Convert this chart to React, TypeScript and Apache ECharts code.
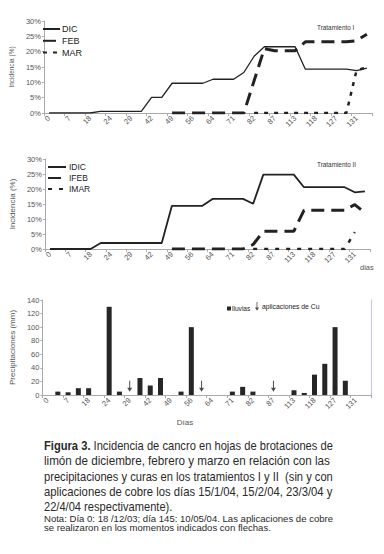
import React, { useEffect, useRef } from 'react';
import * as echarts from 'echarts';

// Category axis (days); odd entries are not labelled on the original axis
const days = ['0', '3', '7', '12', '18', '21', '24', '27', '29', '35', '42', '45', '49', '52', '56', '60', '64', '67', '71', '77', '82', '84', '87', '96', '113', '116', '118', '122', '127', '129', '131', '138'];

// Tratamiento I (%)
const dic1 = [0, 0, 0, 0, 0, 0.5, 0.5, 0.5, 0.5, 0.5, 5.1, 5.1, 9.7, 9.7, 9.7, 9.7, 11, 11, 11, 13.2, 18.5, 21.6, 21.6, 21.6, 21.6, 14.3, 14.3, 14.3, 14.3, 14.3, 13.8, 14.6];
const feb1 = [null, null, null, null, null, null, null, null, null, null, null, null, 0, 0, 0, 0, 0, 0, 0, 0, 10.5, 21, 20.3, 20.3, 20.3, 23.2, 23.2, 23.2, 23.2, 23.2, 23.6, 25.7];
const mar1 = [null, null, null, null, null, null, null, null, null, null, null, null, null, null, null, null, null, null, null, null, 0, 0, 0, 0, 0, 0, 0, 0, 0, 0, 14, 14.8];

// Tratamiento II (%)
const dic2 = [0, 0, 0, 0, 0, 2, 2, 2, 2, 2, 2, 2, 14.4, 14.4, 14.4, 14.4, 16.7, 16.7, 16.7, 16.7, 15.1, 24.8, 24.8, 24.8, 24.8, 20.6, 20.6, 20.6, 20.6, 20.6, 18.9, 19.2];
const feb2 = [null, null, null, null, null, null, null, null, null, null, null, null, 0, 0, 0, 0, 0, 0, 0, 0, 1.5, 5.9, 5.9, 5.9, 5.9, 12.9, 12.9, 12.9, 12.9, 12.9, 14.8, 12];
const mar2 = [null, null, null, null, null, null, null, null, null, null, null, null, null, null, null, null, null, null, null, null, 0, 0, 0, 0, 0, 0, 0, 0, 0, 0, 5.6, null];

// Precipitaciones (mm)
const lluvias = [null, 5, 4, 10, 10, null, 130, 5, null, 25, 14, 25, null, 5, 100, null, null, null, 5, 12, 5, null, null, null, 7, 3, 30, 46, 100, 21, null, null];
// Aplicaciones de Cu (day category, marker height in mm)
const cuDays = ['29', '60', '87', '127'];
const cuLevel = 13;

const pctTicks = { min: 0, max: 30, interval: 5 };
const mmTicks = { min: 0, max: 140, interval: 20 };

const FONT = "'Liberation Sans', Arial, sans-serif";
const ARROW = 'path://M2,0 L3,0 L3,7 L5,7 L2.5,11 L0,7 L2,7 Z';

const INK = '#222';
const AXIS = '#aaa';
const LBL = '#555';

// caption: [bold prefix, text, justified width (0 = natural)]
const captionLines: [string, string, number][] = [
  ['Figura 3.', ' Incidencia de cancro en hojas de brotaciones de', 289],
  ['', 'limón de diciembre, febrero y marzo en relación con las', 286],
  ['', 'precipitaciones y curas en los tratamientos I y II  (sin y con', 289],
  ['', 'aplicaciones de cobre los días 15/1/04, 15/2/04, 23/3/04 y', 289],
  ['', '22/4/04 respectivamente).', 0],
];
const noteLines: [string, number][] = [
  ['Nota: Día 0: 18 /12/03; día 145: 10/05/04. Las aplicaciones de cobre', 289],
  ['se realizaron en los momentos indicados con flechas.', 0],
];

function measure(text: string, font: string): number {
  const c = document.createElement('canvas').getContext('2d');
  if (!c) return text.length * 6;
  c.font = font;
  return c.measureText(text).width;
}

function xAxisFor(gridIndex: number) {
  return {
    type: 'category',
    gridIndex,
    data: days,
    boundaryGap: true,
    axisLine: { lineStyle: { color: AXIS, width: 1 } },
    axisTick: { show: true, interval: 1, length: 3, lineStyle: { color: AXIS } },
    axisLabel: { interval: 1, rotate: 45, fontSize: 7.5, color: LBL, margin: 4, fontFamily: FONT },
    splitLine: { show: false },
  };
}

function pctAxis(gridIndex: number, nameGap: number, nameSize: number) {
  return {
    type: 'value',
    gridIndex,
    ...pctTicks,
    name: 'Incidencia (%)',
    nameLocation: 'middle',
    nameGap,
    nameTextStyle: { fontSize: nameSize, color: LBL, fontFamily: FONT },
    axisLine: { show: true, lineStyle: { color: AXIS } },
    axisTick: { show: true, length: 2, lineStyle: { color: AXIS } },
    axisLabel: { formatter: '{value}%', fontSize: 7.5, color: LBL, margin: 3, fontFamily: FONT },
    splitLine: { show: false },
  };
}

function lineSeries(name: string, data: (number | null)[], idx: number, width: number, type: any) {
  return {
    name,
    type: 'line',
    xAxisIndex: idx,
    yAxisIndex: idx,
    data,
    symbol: 'none',
    connectNulls: false,
    lineStyle: { color: INK, width, type, cap: 'butt' },
    itemStyle: { color: INK },
    z: 3,
  };
}

export default function App() {
  const ref = useRef<HTMLDivElement>(null);
  useEffect(() => {
    if (!ref.current) return;
    const chart = echarts.init(ref.current, undefined, { renderer: 'svg' });
    const graphic: any[] = [
      { type: 'text', x: 317, y: 27, scaleX: 0.85, style: { text: 'Tratamiento I', fontSize: 7.5, fill: '#333', fontFamily: FONT, verticalAlign: 'middle' } },
      { type: 'text', x: 317, y: 164, scaleX: 0.85, style: { text: 'Tratamiento II', fontSize: 7.5, fill: '#333', fontFamily: FONT, verticalAlign: 'middle' } },
      { type: 'text', x: 360, y: 267, style: { text: 'dias', fontSize: 7.5, fill: LBL, fontFamily: FONT, verticalAlign: 'middle' } },
      { type: 'text', x: 185, y: 422, style: { text: 'Días', fontSize: 8, fill: LBL, fontFamily: FONT, align: 'center', verticalAlign: 'middle' } },
    ];
    const capSize = 13;
    const capFontR = `${capSize}px 'Liberation Sans'`;
    const capFontB = `bold ${capSize}px 'Liberation Sans'`;
    const defaultCapScale = 0.855;
    captionLines.forEach(([bold, rest, target], i) => {
      const w = (bold ? measure(bold, capFontB) : 0) + measure(rest, capFontR);
      const sx = target && w > 0 ? target / w : defaultCapScale;
      graphic.push({
        type: 'text',
        x: 44,
        y: 446 + i * 15.2,
        scaleX: sx,
        style: {
          text: bold ? `{b|${bold}}${rest}` : rest,
          fontSize: capSize,
          fontFamily: FONT,
          fill: '#2a2a2a',
          verticalAlign: 'middle',
          rich: { b: { fontSize: capSize, fontWeight: 'bold', fontFamily: FONT, fill: '#2a2a2a' } },
        },
      });
    });
    const noteSize = 9.4;
    const noteFont = `${noteSize}px 'Liberation Sans'`;
    let noteScale = 1;
    noteLines.forEach(([t, target], i) => {
      const w = measure(t, noteFont);
      if (target && w > 0) noteScale = target / w;
      graphic.push({
        type: 'text',
        x: 44,
        y: 518.5 + i * 9.2,
        scaleX: noteScale,
        style: { text: t, fontSize: noteSize, fontFamily: FONT, fill: '#2a2a2a', verticalAlign: 'middle' },
      });
    });

    const hideSymbol = { color: 'transparent', borderWidth: 0 };

    chart.setOption({
      animation: false,
      backgroundColor: '#fff',
      grid: [
        { left: 33, top: 21, width: 339, height: 92 },
        { left: 37, top: 159, width: 333, height: 90 },
        { left: 37, top: 300, width: 334, height: 95 },
      ],
      xAxis: [xAxisFor(0), xAxisFor(1), xAxisFor(2)],
      yAxis: [
        pctAxis(0, 22, 6.5),
        pctAxis(1, 24, 8),
        {
          type: 'value',
          gridIndex: 2,
          ...mmTicks,
          name: 'Precipitaciones (mm)',
          nameLocation: 'middle',
          nameGap: 19,
          nameTextStyle: { fontSize: 8, color: LBL, fontFamily: FONT },
          axisLine: { show: true, lineStyle: { color: AXIS } },
          axisTick: { show: true, length: 2, lineStyle: { color: AXIS } },
          axisLabel: { fontSize: 7.5, color: LBL, margin: 3, fontFamily: FONT },
          splitLine: { show: false },
        },
        {
          type: 'value',
          gridIndex: 2,
          position: 'right',
          ...mmTicks,
          axisLine: { show: true, lineStyle: { color: '#c4c8dc' } },
          axisTick: { show: false },
          axisLabel: { show: false },
          splitLine: { show: false },
        },
      ],
      legend: [
        {
          data: ['DIC', 'FEB', 'MAR'],
          orient: 'vertical',
          left: 42,
          top: 24,
          itemWidth: 17,
          itemHeight: 10,
          itemGap: 1.8,
          padding: 0,
          itemStyle: hideSymbol,
          textStyle: { fontSize: 9, color: INK, fontFamily: FONT, lineHeight: 10, padding: [0, 0, 0, -3] },
        },
        {
          data: ['IDIC', 'IFEB', 'IMAR'],
          orient: 'vertical',
          left: 47,
          top: 162,
          itemWidth: 18,
          itemHeight: 10,
          itemGap: 1,
          padding: 0,
          itemStyle: hideSymbol,
          textStyle: { fontSize: 8.5, color: INK, fontFamily: FONT, lineHeight: 10, padding: [0, 0, 0, -2] },
        },
        {
          data: [{ name: 'lluvias', icon: 'rect' }],
          left: 227,
          top: 305,
          itemWidth: 4,
          itemHeight: 4,
          padding: 0,
          textStyle: { fontSize: 6.6, color: INK, fontFamily: FONT, padding: [0, 0, 0, -4] },
        },
        {
          data: [{ name: 'aplicaciones de Cu', icon: ARROW }],
          left: 255,
          top: 302,
          itemWidth: 4,
          itemHeight: 10,
          padding: 0,
          textStyle: { fontSize: 6.8, color: INK, fontFamily: FONT, padding: [0, 0, 0, -2] },
        },
      ],
      graphic,
      series: [
        lineSeries('DIC', dic1, 0, 1.3, 'solid'),
        lineSeries('FEB', feb1, 0, 3, [13, 7]),
        lineSeries('MAR', mar1, 0, 2.5, [4, 6]),
        lineSeries('IDIC', dic2, 1, 1.8, 'solid'),
        lineSeries('IFEB', feb2, 1, 3, [13, 7]),
        lineSeries('IMAR', mar2, 1, 2.5, [4, 7]),
        {
          name: 'lluvias',
          type: 'bar',
          xAxisIndex: 2,
          yAxisIndex: 2,
          data: lluvias,
          barWidth: 5,
          itemStyle: { color: '#262626' },
        },
        {
          name: 'aplicaciones de Cu',
          type: 'scatter',
          xAxisIndex: 2,
          yAxisIndex: 2,
          data: cuDays.map((d) => [d, cuLevel]),
          symbol: ARROW,
          symbolSize: [5, 11],
          itemStyle: { color: INK },
          z: 4,
        },
      ],
    });
    return () => chart.dispose();
  }, []);
  return <div ref={ref} style={{ position: 'fixed', left: 0, top: 0, width: 384, height: 554 }} />;
}
